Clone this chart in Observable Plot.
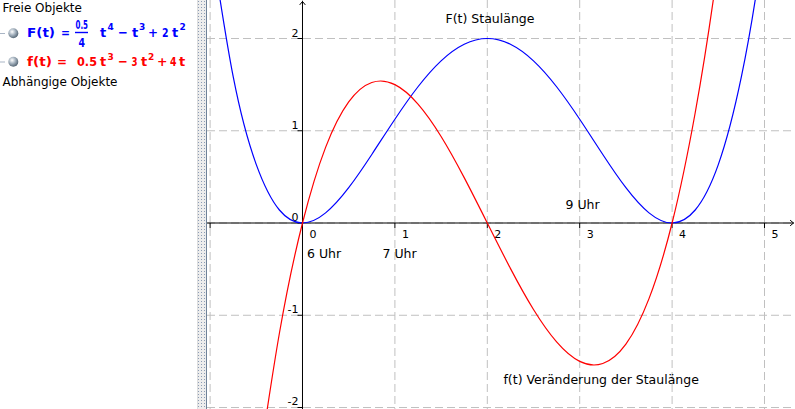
<!DOCTYPE html>
<html><head><meta charset="utf-8">
<script src="https://cdn.jsdelivr.net/npm/d3@7"></script>
<script src="https://cdn.jsdelivr.net/npm/@observablehq/plot@0.6"></script>
<style>
html,body{margin:0;padding:0;background:#fff;}
#wrap{position:relative;width:795px;height:409px;overflow:hidden;font-family:"DejaVu Sans",sans-serif;}
#chart{position:absolute;left:0;top:0;}
#panel{position:absolute;left:0;top:0;width:197px;height:409px;z-index:2;background:#fff;}
#split{position:absolute;left:197px;top:0;height:409px;z-index:2;background-color:#ededed;
  background-image:radial-gradient(circle,#8c9cb4 0.6px,transparent 1px);background-size:3px 3px;background-position:2px 0;
  border-left:1px solid #dedede;border-right:1px solid #6f8299;box-sizing:border-box;width:10px;}
</style></head>
<body>
<div id="wrap">
  <div id="chart"></div>
  <div id="panel">
    <svg width="197" height="409" font-family="DejaVu Sans">
      <defs>
        <radialGradient id="ball" cx="0.38" cy="0.35" r="0.7">
          <stop offset="0" stop-color="#ffffff"/>
          <stop offset="0.45" stop-color="#a9b6c2"/>
          <stop offset="1" stop-color="#4e5f6e"/>
        </radialGradient>
      </defs>
      <text x="2.5" y="12" font-size="12" fill="#000">Freie Objekte</text>
      <line x1="0" x2="5" y1="33.5" y2="33.5" stroke="#a9b5c5"/>
      <circle cx="13.3" cy="33.3" r="5" fill="url(#ball)"/>
      <g fill="#0000ff" font-weight="bold" font-size="13">
        <text x="27" y="37" textLength="28" lengthAdjust="spacingAndGlyphs">F(t)</text>
        <text x="61" y="37" textLength="9" lengthAdjust="spacingAndGlyphs">=</text>
        <text x="75.5" y="29" font-size="13" textLength="12.5" lengthAdjust="spacingAndGlyphs">0.5</text>
        <line x1="75" x2="88" y1="32.5" y2="32.5" stroke="#0000ff" stroke-width="1.4"/>
        <text x="78.5" y="47" font-size="13" textLength="6.5" lengthAdjust="spacingAndGlyphs">4</text>
        <text x="100" y="37">t</text><text x="107.5" y="30" font-size="9">4</text>
        <text x="118" y="37" textLength="10" lengthAdjust="spacingAndGlyphs">−</text>
        <text x="132" y="37">t</text><text x="139" y="30" font-size="9">3</text>
        <text x="148" y="37" textLength="10" lengthAdjust="spacingAndGlyphs">+</text>
        <text x="162" y="37" textLength="6.5" lengthAdjust="spacingAndGlyphs">2</text>
        <text x="172" y="37">t</text><text x="179.5" y="30" font-size="9">2</text>
      </g>
      <line x1="0" x2="5" y1="62" y2="62" stroke="#a9b5c5"/>
      <circle cx="13.3" cy="61.7" r="5" fill="url(#ball)"/>
      <g fill="#ff0000" font-weight="bold" font-size="13">
        <text x="27" y="66" textLength="25" lengthAdjust="spacingAndGlyphs">f(t)</text>
        <text x="57" y="66" textLength="10" lengthAdjust="spacingAndGlyphs">=</text>
        <text x="77" y="66" textLength="20" lengthAdjust="spacingAndGlyphs">0.5</text>
        <text x="100" y="66">t</text><text x="107.5" y="60" font-size="9">3</text>
        <text x="118" y="66" textLength="10" lengthAdjust="spacingAndGlyphs">−</text>
        <text x="131.5" y="66" textLength="6" lengthAdjust="spacingAndGlyphs">3</text>
        <text x="141" y="66">t</text><text x="148" y="60" font-size="9">2</text>
        <text x="157" y="66" textLength="10.5" lengthAdjust="spacingAndGlyphs">+</text>
        <text x="170" y="66" textLength="6.5" lengthAdjust="spacingAndGlyphs">4</text>
        <text x="179" y="66">t</text>
      </g>
      <text x="2.5" y="86" font-size="12" fill="#000">Abhängige Objekte</text>
    </svg>
  </div>
  <div id="split"></div>
</div>
<script>
// F(t) — blue curve, values read at t steps
const tBlue = [-1,-0.75,-0.5,-0.25,0,0.25,0.5,0.75,1,1.25,1.5,1.75,2,2.25,2.5,2.75,3,3.25,3.5,3.75,4,4.25,4.5,4.75,5,5.25];
const FVals = [3.125,1.586,0.633,0.141,0,0.110,0.383,0.743,1.125,1.477,1.758,1.938,2,1.938,1.758,1.477,1.125,0.743,0.383,0.110,0,0.141,0.633,1.586,3.125,5.383];
// f(t) — red curve
const tRed = [-0.5,-0.25,0,0.25,0.5,0.75,1,1.25,1.5,1.75,2,2.25,2.5,2.75,3,3.25,3.5,3.75,4,4.25,4.5,4.75];
const fVals = [-2.813,-1.195,0,0.820,1.313,1.523,1.5,1.289,0.938,0.492,0,-0.492,-0.938,-1.289,-1.5,-1.523,-1.313,-0.820,0,1.195,2.813,4.898];
// axes ticks
const xTicks = [-1,0,1,2,3,4,5];
const xTickLabels = [null,"0","1","2","3","4","5"];
const yTicks = [-2,-1,0,1,2];
const yTickLabels = ["-2","-1","0","1","2"];
// annotations (text, t, value)
const noteTexts = ["F(t) Staulänge","9 Uhr","6 Uhr","7 Uhr","f(t) Veränderung der Staulänge"];
const noteX = [1.548,2.846,0.049,0.866,2.175];
const noteY = [2.173,0.157,-0.374,-0.374,-1.74];

const blue = tBlue.map((t,i)=>({t, v: FVals[i]}));
const red = tRed.map((t,i)=>({t, v: fVals[i]}));
const xt = xTicks.map((x,i)=>({x, label: xTickLabels[i]})).filter(d=>d.label!==null);
const yt = yTicks.map((y,i)=>({y, label: yTickLabels[i]}));
const notes = noteTexts.map((text,i)=>({text, x: noteX[i], y: noteY[i]}));

const xDomain = [-1.0281, 5.3355];
const yDomain = [-2.0217, 2.412];
const tickDown = {draw(ctx){ ctx.moveTo(0,0); ctx.lineTo(0,5); }};
const tickLeft = {draw(ctx){ ctx.moveTo(0,0); ctx.lineTo(-5,0); }};

const chart = Plot.plot({
  width: 795, height: 409,
  marginLeft: 207, marginRight: 0, marginTop: 0, marginBottom: 0,
  x: {domain: xDomain, axis: null},
  y: {domain: yDomain, axis: null},
  style: {fontFamily: "DejaVu Sans", background: "white", color: "black"},
  marks: [
    Plot.ruleX(xTicks, {x: d=>d, stroke: "#c0c0c0", strokeOpacity: 1, strokeDasharray: "8,4"}),
    Plot.ruleY(yTicks, {y: d=>d, stroke: "#c0c0c0", strokeOpacity: 1, strokeDasharray: "8,4"}),
    Plot.arrow([0], {x1: xDomain[0], y1: 0, x2: 5.314, y2: 0, stroke: "black", strokeWidth: 1, headLength: 6, headAngle: 80}),
    Plot.arrow([0], {x1: 0, y1: yDomain[0], x2: 0, y2: 2.401, stroke: "black", strokeWidth: 1, headLength: 6, headAngle: 80}),
    Plot.dot(xTicks, {x: d=>d, y: 0, symbol: tickDown, stroke: "black", fill: "none", strokeWidth: 1}),
    Plot.dot(yTicks, {x: 0, y: d=>d, symbol: tickLeft, stroke: "black", fill: "none", strokeWidth: 1}),
    Plot.text(xt, {x: "x", y: 0, text: "label", textAnchor: "start", dx: 7, dy: 11, fontSize: 11, fill: "black"}),
    Plot.text(yt, {x: 0, y: "y", text: "label", textAnchor: "end", lineAnchor: "bottom", dx: -4, dy: -2, fontSize: 11, fill: "black"}),
    Plot.line(blue, {x: "t", y: "v", stroke: "#0000ff", strokeWidth: 1.2, curve: "natural", clip: true}),
    Plot.line(red, {x: "t", y: "v", stroke: "#ff0000", strokeWidth: 1.2, curve: "natural", clip: true}),
    Plot.text(notes, {x: "x", y: "y", text: "text", textAnchor: "start", lineAnchor: "bottom", fontSize: 12.5, fill: "black"})
  ]
});
document.getElementById("chart").appendChild(chart);
</script>
</body></html>
